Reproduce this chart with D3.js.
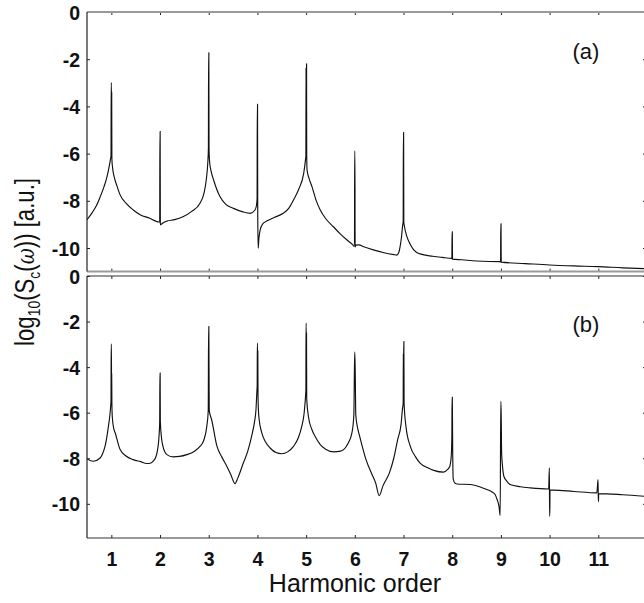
<!DOCTYPE html>
<html>
<head>
<meta charset="utf-8">
<script src="https://cdn.jsdelivr.net/npm/d3@7"></script>
<style>
  body { margin: 0; background: #fff; }
  svg { display: block; font-family: "Liberation Sans", Arial, sans-serif; }
  .tick text { font-family: "Liberation Sans", Arial, sans-serif; font-weight: bold; font-size: 19.5px; fill: #111; }
  .tick line { stroke: #222; }
</style>
</head>
<body>
<svg id="chart" width="644" height="603"></svg>
<script>
// harmonic orders on the x axis
const HARMONICS = [1, 2, 3, 4, 5, 6, 7, 8, 9, 10, 11];
const Y_TICKS = [0, -2, -4, -6, -8, -10];

// panel (a): [harmonic order, log10 S]
const specA = [
  [0.50, -8.80], [0.60, -8.52], [0.70, -8.18], [0.77, -7.84], [0.85, -7.40],
  [0.91, -6.99], [0.96, -6.50], [0.985, -6.20], [0.993, -6.10], [0.997, -3.00],
  [1.001, -3.00], [1.004, -5.20], [1.007, -3.40], [1.011, -6.20], [1.02, -6.50], [1.06, -7.00],
  [1.12, -7.40], [1.18, -7.75], [1.30, -8.10], [1.45, -8.39], [1.60, -8.60],
  [1.79, -8.74], [1.90, -8.85], [1.98, -8.90], [1.993, -8.90], [1.997, -5.07], [2.002, -5.07],
  [2.006, -8.95], [2.012, -9.02], [2.05, -8.95], [2.14, -8.86], [2.30, -8.80],
  [2.47, -8.68], [2.65, -8.45], [2.82, -8.10], [2.90, -7.70], [2.95, -7.10],
  [2.98, -6.40], [2.993, -5.80], [2.997, -1.73], [3.002, -1.73], [3.006, -5.80], [3.02, -6.40],
  [3.05, -6.75], [3.10, -7.12], [3.23, -7.82], [3.35, -8.15], [3.51, -8.32],
  [3.70, -8.47], [3.85, -8.53], [3.95, -8.39], [3.98, -8.20], [3.993, -7.90],
  [3.997, -3.91], [4.002, -3.91], [4.006, -8.50], [4.015, -10.01], [4.03, -9.60], [4.06, -9.20],
  [4.12, -8.95], [4.20, -8.85], [4.35, -8.70], [4.53, -8.53], [4.65, -8.30],
  [4.74, -7.97], [4.85, -7.50], [4.95, -6.84], [4.99, -6.20], [4.995, -6.10],
  [4.998, -2.35], [5.002, -5.50], [5.005, -2.20], [5.009, -2.20], [5.012, -6.10], [5.02, -6.70],
  [5.06, -7.05], [5.12, -7.40], [5.20, -7.95], [5.29, -8.39], [5.40, -8.75],
  [5.56, -9.10], [5.70, -9.40], [5.84, -9.66], [5.95, -9.85], [5.993, -9.94],
  [5.997, -5.89], [6.002, -5.89], [6.006, -9.95], [6.02, -9.88], [6.08, -9.87], [6.20, -9.96],
  [6.38, -10.08], [6.60, -10.20], [6.80, -10.28], [6.86, -10.30], [6.90, -10.20],
  [6.93, -9.94], [6.96, -9.50], [6.985, -9.00], [6.993, -8.90], [6.997, -5.11], [7.002, -5.11],
  [7.006, -8.90], [7.02, -9.10], [7.07, -9.52], [7.14, -9.85], [7.21, -10.08],
  [7.34, -10.25], [7.60, -10.35], [7.80, -10.40], [7.993, -10.44], [7.997, -9.31], [8.002, -9.31],
  [8.006, -10.47], [8.20, -10.50], [8.50, -10.55], [8.993, -10.58], [8.997, -8.98], [9.002, -8.98],
  [9.006, -10.60], [9.50, -10.66], [10.00, -10.72], [10.50, -10.76], [11.00, -10.79],
  [11.50, -10.84], [12.00, -10.88]
];

// panel (b): [harmonic order, log10 S]
const specB = [
  [0.50, -8.03], [0.63, -8.13], [0.77, -7.99], [0.83, -7.75], [0.87, -7.48],
  [0.94, -6.60], [0.975, -6.00], [0.99, -5.60], [0.993, -5.50], [0.997, -2.99],
  [1.001, -2.99], [1.004, -5.00], [1.007, -4.30], [1.011, -5.60], [1.02, -6.20], [1.05, -6.70],
  [1.08, -6.89], [1.18, -7.62], [1.30, -7.90], [1.45, -8.06], [1.60, -8.15],
  [1.73, -8.23], [1.80, -8.22], [1.86, -8.13], [1.92, -7.90], [1.95, -7.62],
  [1.98, -7.00], [1.993, -6.40], [1.997, -4.26], [2.002, -4.26], [2.006, -6.40], [2.03, -7.10],
  [2.06, -7.48], [2.14, -7.84], [2.27, -7.94], [2.40, -7.92], [2.55, -7.84],
  [2.70, -7.70], [2.82, -7.48], [2.90, -7.20], [2.96, -6.60], [2.99, -5.90],
  [2.997, -2.22], [3.002, -2.22], [3.01, -5.90], [3.06, -6.31], [3.17, -7.48], [3.27, -7.95],
  [3.37, -8.35], [3.45, -8.70], [3.54, -9.11], [3.60, -8.85], [3.71, -8.21],
  [3.80, -7.70], [3.88, -7.04], [3.94, -6.40], [3.97, -5.87], [3.99, -5.00],
  [3.995, -4.80], [3.998, -2.95], [4.002, -2.95], [4.005, -4.90], [4.008, -3.30], [4.012, -5.30],
  [4.03, -6.20], [4.09, -6.89], [4.17, -7.30], [4.26, -7.55], [4.38, -7.75],
  [4.50, -7.80], [4.62, -7.72], [4.74, -7.48], [4.84, -7.10], [4.91, -6.60],
  [4.96, -6.00], [4.99, -5.20], [4.995, -5.00], [4.998, -2.07], [5.002, -2.07], [5.005, -4.80],
  [5.008, -2.50], [5.012, -5.40], [5.05, -6.20], [5.12, -6.75], [5.20, -7.10],
  [5.29, -7.40], [5.40, -7.60], [5.57, -7.72], [5.68, -7.70], [5.77, -7.62],
  [5.86, -7.35], [5.94, -6.89], [5.98, -6.10], [5.997, -3.34], [6.002, -3.34], [6.02, -6.10],
  [6.06, -6.70], [6.10, -7.04], [6.23, -8.06], [6.35, -8.70], [6.43, -9.10],
  [6.50, -9.64], [6.58, -9.20], [6.71, -8.64], [6.80, -8.00], [6.88, -7.18],
  [6.95, -6.50], [6.98, -5.80], [6.993, -5.60], [6.996, -3.40], [7.000, -5.20],
  [7.003, -2.88], [7.007, -2.88], [7.012, -5.60], [7.05, -6.60], [7.14, -7.48], [7.25, -7.95],
  [7.34, -8.21], [7.50, -8.42], [7.62, -8.53], [7.82, -8.61], [7.90, -8.50],
  [7.95, -8.35], [7.98, -7.90], [7.993, -7.00], [7.997, -5.33], [8.002, -5.33], [8.009, -7.50],
  [8.02, -8.90], [8.06, -9.10], [8.10, -9.13], [8.37, -9.15], [8.60, -9.28],
  [8.71, -9.37], [8.82, -9.48], [8.88, -9.59], [8.92, -9.80], [8.96, -10.10],
  [8.985, -10.51], [8.997, -5.50], [9.002, -5.50], [9.015, -7.80], [9.04, -8.50], [9.06, -8.79],
  [9.12, -9.00], [9.19, -9.15], [9.40, -9.25], [9.60, -9.30], [9.98, -9.35],
  [9.995, -8.42], [10.000, -10.54], [10.004, -10.54], [10.008, -9.40], [10.08, -9.40], [10.50, -9.46],
  [10.97, -9.52], [10.995, -8.94], [11.000, -9.89], [11.004, -9.89], [11.008, -9.55], [11.50, -9.60],
  [12.00, -9.68]
];

const svg = d3.select("#chart");

const x = d3.scaleLinear().domain([0.5, 12]).range([87, 647]);

const panels = [
  { id: "a", data: specA, y: d3.scaleLinear().domain([-11, 0]).range([271.6, 12]),
    frame: "#9a9a9a", label: "(a)", labelY: 59, showX: false },
  { id: "b", data: specB, y: d3.scaleLinear().domain([-11.5, 0]).range([538, 276]),
    frame: "#333", label: "(b)", labelY: 332, showX: true }
];

panels.forEach(p => {
  const [yBot, yTop] = p.y.range();
  const g = svg.append("g");

  svg.append("clipPath").attr("id", "clip-" + p.id)
    .append("rect")
    .attr("x", x(0.5)).attr("y", yTop)
    .attr("width", x(12) - x(0.5)).attr("height", yBot - yTop);

  // spectrum
  const line = d3.line()
    .x(d => x(d[0]))
    .y(d => p.y(d[1]))
    .curve(d3.curveMonotoneX);
  g.append("path")
    .datum(p.data)
    .attr("clip-path", `url(#clip-${p.id})`)
    .attr("fill", "none")
    .attr("stroke", "#111")
    .attr("stroke-width", 1.15)
    .attr("d", line);

  // left axis with labels, ticks inward
  g.append("g")
    .attr("transform", `translate(${x(0.5)},0)`)
    .call(d3.axisLeft(p.y).tickValues(Y_TICKS).tickSizeInner(-3).tickSizeOuter(0)
      .tickPadding(7).tickFormat(d => String(d)))
    .call(a => a.select(".domain").remove())
    .selectAll("text").attr("dy", "0.36em");

  // right axis, ticks only
  g.append("g")
    .attr("transform", `translate(${x(12)},0)`)
    .call(d3.axisRight(p.y).tickValues(Y_TICKS).tickSizeInner(-4).tickSizeOuter(0).tickFormat(""))
    .call(a => a.select(".domain").remove());

  // top x ticks
  g.append("g")
    .attr("transform", `translate(0,${yTop})`)
    .call(d3.axisBottom(x).tickValues(HARMONICS).tickSizeInner(3).tickSizeOuter(0).tickFormat(""))
    .call(a => a.select(".domain").remove());

  // bottom x ticks
  g.append("g")
    .attr("transform", `translate(0,${yBot})`)
    .call(d3.axisBottom(x).tickValues(HARMONICS).tickSizeInner(-3).tickSizeOuter(0)
      .tickPadding(14).tickFormat(p.showX ? (d => String(d)) : ""))
    .call(a => a.select(".domain").remove());

  // frame
  const frame = g.append("g").attr("fill", "none");
  frame.append("line")
    .attr("x1", x(0.5)).attr("x2", x(12)).attr("y1", yTop).attr("y2", yTop)
    .attr("stroke", p.frame).attr("stroke-width", p.id === "a" ? 2 : 1.2);
  frame.append("line")
    .attr("x1", x(0.5)).attr("x2", x(12)).attr("y1", yBot).attr("y2", yBot)
    .attr("stroke", p.frame).attr("stroke-width", p.id === "a" ? 2 : 1.2);
  frame.append("line")
    .attr("x1", x(0.5)).attr("x2", x(0.5)).attr("y1", yTop).attr("y2", yBot)
    .attr("stroke", "#222").attr("stroke-width", 1.2);

  // panel label
  g.append("text")
    .attr("x", 586).attr("y", p.labelY)
    .attr("text-anchor", "middle")
    .attr("font-size", 22)
    .attr("fill", "#111")
    .text(p.label);
});

// x axis title
svg.append("text")
  .attr("x", 355).attr("y", 592)
  .attr("text-anchor", "middle")
  .attr("font-size", 25)
  .attr("fill", "#111")
  .text("Harmonic order");

// y axis title (a little condensed, like the original)
const yt = svg.append("text")
  .attr("text-anchor", "middle")
  .attr("font-size", 27)
  .attr("fill", "#111");
yt.append("tspan").text("log");
yt.append("tspan").attr("font-size", 17).attr("dy", 6).text("10");
yt.append("tspan").attr("dy", -6).text("(S");
yt.append("tspan").attr("font-size", 17).attr("dy", 6).text("c");
yt.append("tspan").attr("dy", -6).text("(");
yt.append("tspan").attr("font-style", "italic").attr("font-family", "DejaVu Serif, serif").attr("font-size", 24).text("ω");
yt.append("tspan").text(")) [a.u.]");
const ytLen = yt.node().getComputedTextLength();
const ytScale = Math.min(1, 168 / ytLen);
yt.attr("transform", `translate(34,262) rotate(-90) scale(${ytScale},1)`);
</script>
</body>
</html>
